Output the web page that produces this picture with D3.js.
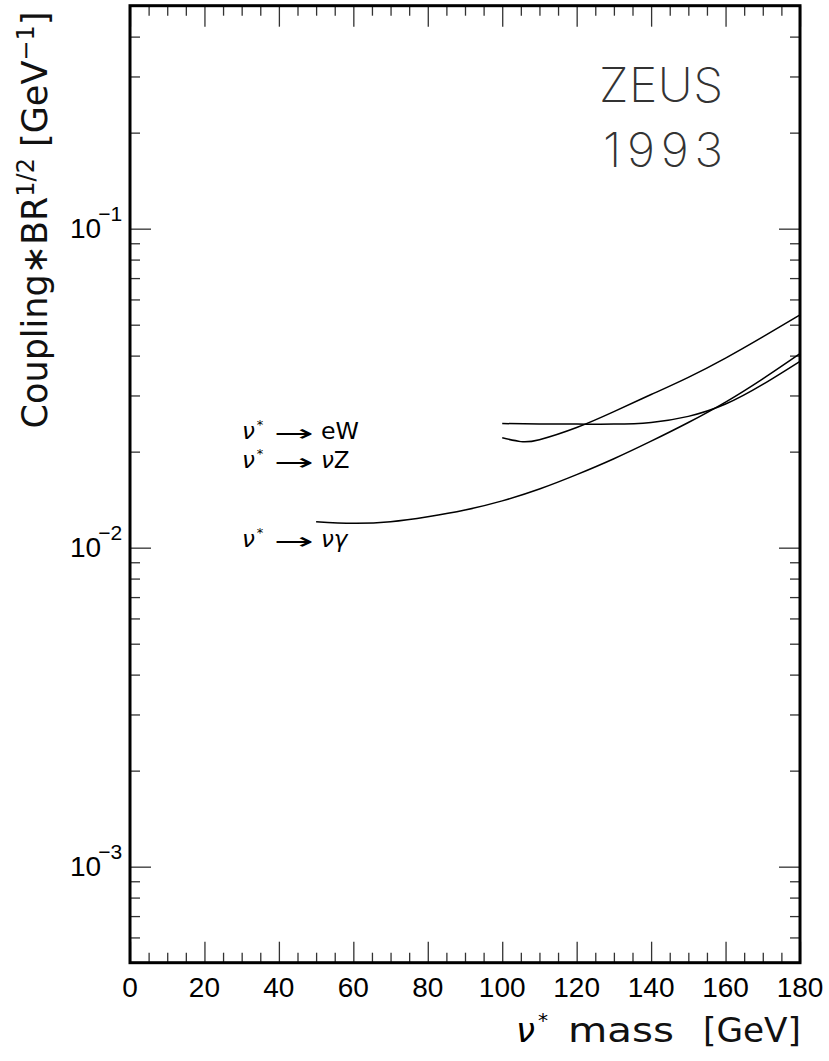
<!DOCTYPE html>
<html>
<head>
<meta charset="utf-8">
<script src="https://cdn.jsdelivr.net/npm/d3@7"></script>
<style>
  html, body { margin: 0; padding: 0; background: #fff; }
  svg { display: block; }
</style>
</head>
<body>
<div id="chart"></div>
<script>
// ---- data ----
const massGamma  = [50, 60, 70, 80, 90, 100, 110, 120, 130, 140, 150, 160, 170, 180];
const limitGamma = [0.01206, 0.01192, 0.01206, 0.01250, 0.01312, 0.01402, 0.01527, 0.01694, 0.01900, 0.02157, 0.02468, 0.02860, 0.03383, 0.04058];
const massEW     = [100, 105, 110, 120, 130, 140, 150, 160, 170, 180];
const limitEW    = [0.0221, 0.0215, 0.0218, 0.0238, 0.0267, 0.0302, 0.0342, 0.0393, 0.0458, 0.0537];
const massNZ     = [100, 110, 120, 130, 140, 150, 160, 170, 180];
const limitNZ    = [0.0245, 0.0244, 0.0244, 0.0244, 0.0247, 0.0258, 0.0282, 0.0325, 0.0384];

const xMajorTicks = [0, 20, 40, 60, 80, 100, 120, 140, 160, 180];
const yDecades = [1e-3, 1e-2, 1e-1];
const yDecadeExp = ["\u22123", "\u22122", "\u22121"];
const xDomain = [0, 180];
const yDomain = [5e-4, 0.5];

// ---- layout ----
const W = 829, H = 1061;
const L = 130, R = 800, T = 5.7, B = 962.7;

const svg = d3.select("#chart").append("svg")
  .attr("width", W).attr("height", H);

const x = d3.scaleLinear().domain(xDomain).range([L, R]);
const y = d3.scaleLog().domain(yDomain).range([B, T]);

const xMinor = d3.range(0, 181, 5).filter(v => v % 20 !== 0);
const yMinor = [];
for (let e = -4; e <= -1; e++) for (let k = 2; k <= 9; k++) {
  const v = k * Math.pow(10, e);
  if (v > yDomain[0] * 1.0001 && v < yDomain[1] * 0.9999) yMinor.push(v);
}

const tickColor = "#333";
function styleAxis(g) {
  g.select(".domain").remove();
  g.selectAll("line").attr("stroke", tickColor).attr("stroke-width", 1.3);
  g.selectAll("text").remove();
}

// bottom
svg.append("g").attr("transform", `translate(0,${B})`)
  .call(d3.axisBottom(x).tickValues(xMajorTicks).tickSize(-21)).call(styleAxis);
svg.append("g").attr("transform", `translate(0,${B})`)
  .call(d3.axisBottom(x).tickValues(xMinor).tickSize(-10)).call(styleAxis);
// top
svg.append("g").attr("transform", `translate(0,${T})`)
  .call(d3.axisTop(x).tickValues(xMajorTicks).tickSize(-21)).call(styleAxis);
svg.append("g").attr("transform", `translate(0,${T})`)
  .call(d3.axisTop(x).tickValues(xMinor).tickSize(-10)).call(styleAxis);
// left
svg.append("g").attr("transform", `translate(${L},0)`)
  .call(d3.axisLeft(y).tickValues(yDecades).tickSize(-21)).call(styleAxis);
svg.append("g").attr("transform", `translate(${L},0)`)
  .call(d3.axisLeft(y).tickValues(yMinor).tickSize(-10)).call(styleAxis);
// right
svg.append("g").attr("transform", `translate(${R},0)`)
  .call(d3.axisRight(y).tickValues(yDecades).tickSize(-21)).call(styleAxis);
svg.append("g").attr("transform", `translate(${R},0)`)
  .call(d3.axisRight(y).tickValues(yMinor).tickSize(-10)).call(styleAxis);

// frame
svg.append("rect").attr("x", L).attr("y", T).attr("width", R - L).attr("height", B - T)
  .attr("fill", "none").attr("stroke", "#000").attr("stroke-width", 3);

// x tick labels
svg.append("g").selectAll("text").data(xMajorTicks).join("text")
  .attr("x", d => x(d)).attr("y", 997)
  .attr("text-anchor", "middle")
  .attr("font-family", "Liberation Sans, Arial, sans-serif")
  .attr("font-size", 28).attr("fill", "#000")
  .text(d => d);

// y tick labels: 10^-n
const yl = svg.append("g").selectAll("text").data(yDecades).join("text")
  .attr("x", 70).attr("y", d => y(d) + 9.5)
  .attr("font-family", "Liberation Sans, Arial, sans-serif")
  .attr("font-size", 28).attr("fill", "#000");
yl.append("tspan").text("10");
yl.append("tspan").attr("font-size", 21).attr("dx", -3).attr("dy", -17)
  .text((d, i) => yDecadeExp[i]);

// curves
const line = d3.line().x(d => x(d[0])).y(d => y(d[1])).curve(d3.curveNatural);
const series = [
  d3.zip(massGamma, limitGamma),
  d3.zip(massEW, limitEW),
  d3.zip(massNZ, limitNZ)
];
svg.append("g").selectAll("path").data(series).join("path")
  .attr("d", line).attr("fill", "none").attr("stroke", "#000").attr("stroke-width", 1.5);

// y axis title
const yt = svg.append("text")
  .attr("transform", "translate(47,220) rotate(-90)")
  .attr("text-anchor", "middle")
  .attr("font-family", "DejaVu Sans, sans-serif")
  .attr("font-size", 35).attr("fill", "#111");
yt.append("tspan").text("Coupling\u2217BR");
yt.append("tspan").attr("font-size", 24).attr("dy", -13).text("1/2");
yt.append("tspan").attr("dy", 13).text(" [GeV");
yt.append("tspan").attr("font-size", 24).attr("dy", -13).text("\u22121");
yt.append("tspan").attr("dy", 13).text("]");

// x axis title
const xfont = "DejaVu Sans, sans-serif";
const xt = svg.append("text").attr("x", 516).attr("y", 1042)
  .attr("font-family", xfont).attr("font-size", 34);
xt.append("tspan").attr("font-style", "italic").text("\u03BD");
xt.append("tspan").attr("font-size", 20).attr("dx", 3).attr("dy", -15).text("*");
svg.append("text").attr("x", 568).attr("y", 1042)
  .attr("font-family", xfont).attr("font-size", 33).attr("fill", "#111")
  .attr("textLength", 106).attr("lengthAdjust", "spacingAndGlyphs").text("mass");
svg.append("text").attr("x", 703).attr("y", 1042)
  .attr("font-family", xfont).attr("font-size", 33).attr("fill", "#111")
  .attr("textLength", 98).attr("lengthAdjust", "spacingAndGlyphs").text("[GeV]");

// ZEUS 1993
const zf = "Inter, DejaVu Sans, sans-serif";
svg.append("text").attr("x", 599).attr("y", 102)
  .attr("font-family", zf).attr("font-weight", 200).attr("font-size", 48)
  .attr("fill", "#333").attr("textLength", 124).attr("lengthAdjust", "spacing").text("ZEUS");
svg.append("text").attr("x", 603).attr("y", 167)
  .attr("font-family", zf).attr("font-weight", 200).attr("font-size", 48)
  .attr("fill", "#333").attr("textLength", 120).attr("lengthAdjust", "spacing").text("1993");

// decay labels
const labels = [
  { y: 439, prod: "eW", italic: false },
  { y: 468, prod: "\u03BDZ", italic: "mixed" },
  { y: 547, prod: "\u03BD\u03B3", italic: true }
];
const lf = "DejaVu Sans, sans-serif";
const lg = svg.append("g");
labels.forEach(l => {
  const s = lg.append("text").attr("x", 242).attr("y", l.y)
    .attr("font-family", lf).attr("font-size", 23);
  s.append("tspan").attr("font-style", "italic").text("\u03BD");
  s.append("tspan").attr("font-size", 13).attr("dx", 2).attr("dy", -10).text("*");
  lg.append("text").attr("x", 274).attr("y", l.y + 2)
    .attr("font-family", lf).attr("font-size", 23)
    .attr("textLength", 40).attr("lengthAdjust", "spacingAndGlyphs").text("\u2192");
  const t = lg.append("text").attr("x", 321).attr("y", l.y)
    .attr("font-family", lf).attr("font-size", 23);
  if (l.italic === "mixed") {
    t.append("tspan").attr("font-style", "italic").text("\u03BD");
    t.append("tspan").text("Z");
  } else if (l.italic) {
    t.attr("font-style", "italic").text(l.prod);
  } else {
    t.attr("textLength", 38).attr("lengthAdjust", "spacingAndGlyphs").text(l.prod);
  }
});
</script>
</body>
</html>
